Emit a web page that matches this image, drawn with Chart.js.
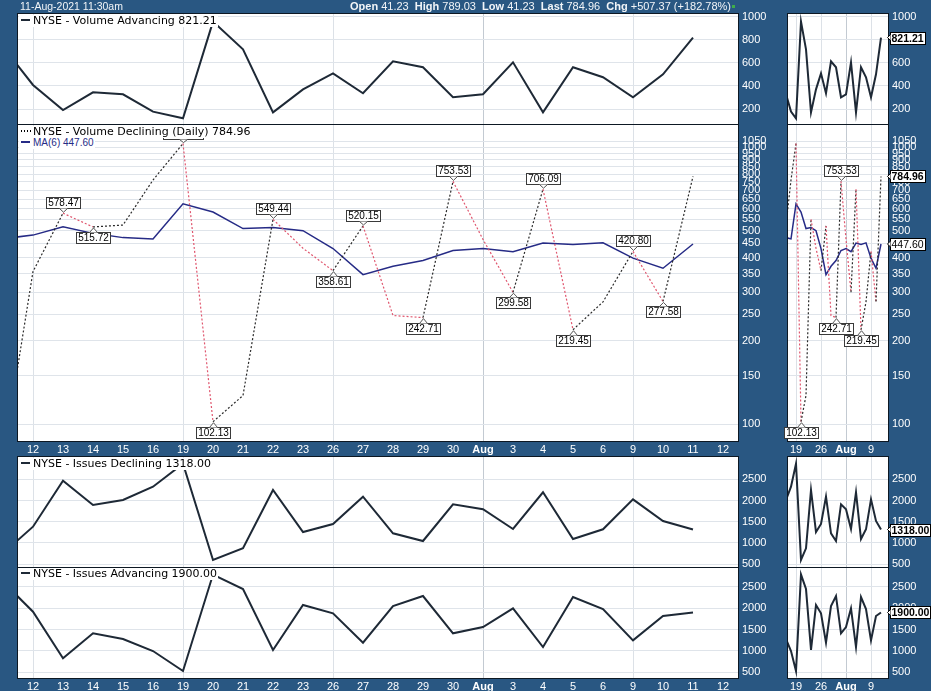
<!DOCTYPE html>
<html>
<head>
<meta charset="utf-8">
<title>NYSE - Volume Declining</title>
<script src="https://cdn.jsdelivr.net/npm/chart.js@4.4.1/dist/chart.umd.min.js"></script>
<style>
  html, body { margin:0; padding:0; }
  body { width:931px; height:691px; background:#295782; position:relative; overflow:hidden; }
  canvas { position:absolute; left:0; top:0; }
  .lg { position:absolute; z-index:10; background:#fff; font-family:"DejaVu Sans", Verdana, sans-serif; font-size:11px; line-height:12px; height:12px; white-space:nowrap; color:#000; padding-left:2px; padding-right:1px; }
  .dash { display:inline-block; width:9px; height:2px; background:#1e2936; vertical-align:middle; margin-right:3px; position:relative; top:-1px; }
  .dots { display:inline-block; width:10px; height:2px; vertical-align:middle; margin-right:2px; background-image:linear-gradient(to right, #000 50%, transparent 50%); background-size:3px 2px; position:relative; top:-1px; }
  .hdr { position:absolute; z-index:10; color:#f2f5f8; font-family:"Liberation Sans", Arial, sans-serif; font-size:11px; line-height:13px; white-space:nowrap; }
</style>
</head>
<body>
<canvas id="c1" width="931" height="691"></canvas>
<canvas id="c2" width="931" height="691"></canvas>
<canvas id="c3" width="931" height="691"></canvas>
<canvas id="c4" width="931" height="691"></canvas>
<canvas id="m1" width="931" height="691"></canvas>
<canvas id="m2" width="931" height="691"></canvas>
<canvas id="m3" width="931" height="691"></canvas>
<canvas id="m4" width="931" height="691"></canvas>
<div class="hdr" style="left:20px;top:0px;font-size:10.5px;">11-Aug-2021 11:30am</div>
<div class="hdr" style="left:350px;top:0px;"><b>Open</b> 41.23&nbsp; <b>High</b> 789.03&nbsp; <b>Low</b> 41.23&nbsp; <b>Last</b> 784.96&nbsp; <b>Chg</b> +507.37 (+182.78%)</div>
<div style="position:absolute;left:732px;top:5px;width:3px;height:3px;background:#3fae4a;z-index:10;"></div>
<script>
// ---------------- data ----------------
const dates = ['Jul 9','Jul 12','Jul 13','Jul 14','Jul 15','Jul 16','Jul 19','Jul 20','Jul 21','Jul 22','Jul 23',
               'Jul 26','Jul 27','Jul 28','Jul 29','Jul 30','Aug 2','Aug 3','Aug 4','Aug 5','Aug 6','Aug 9','Aug 10','Aug 11'];
const tickLabels = ['12','13','14','15','16','19','20','21','22','23','26','27','28','29','30','Aug','3','4','5','6','9','10','11','12'];
const weekStarts = [0,5,10,15,20];
const volAdv = [740,409,191,345,328,177,119,960,719,171,371,510,337,615,563,302,328,606,171,563,476,302,502,821.21];
const volDec = [75,356,578.47,515.72,524,762,1032,102.13,127,549.44,432,358.61,520.15,247,242.71,753.53,465,299.58,706.09,219.45,276.7,420.80,277.58,784.96];
const ma6    = [468,482,517,489,472,467,625,584,509,513,500,431,347,372,390,424,431,420,451,446,452,398,366,447.60];
const issDec = [757,1384,2469,1896,2014,2328,2870,599,875,2250,1259,1448,2092,1229,1047,1913,1795,1330,2196,1094,1323,2030,1519,1318.00];
const issAdv = [2622,1918,824,1411,1277,995,526,2790,2450,1019,2075,1880,1190,2051,2286,1411,1559,1997,1089,2263,1981,1246,1817,1900.00];
const advTicks = [200,400,600,800,1000];
const decTicks = [100,150,200,250,300,350,400,450,500,550,600,650,700,750,800,850,900,950,1000,1050];
const issTicks = [500,1000,1500,2000,2500];
const miniLabeled = [7,14,15,19];

// ---------------- helpers ----------------
const FF = '"Liberation Sans", Arial, sans-serif';
const W = 931, H = 691, YW = 40;
const pts = arr => arr.map((v,k) => ({x: k - 1, y: v}));
const lastOf = a => a[a.length-1].toFixed(2);

const panelPlugin = {
  id: 'panel',
  beforeDraw(c) { const a = c.chartArea, x = c.ctx; x.save(); x.fillStyle = '#fff'; x.fillRect(a.left, a.top, a.right-a.left, a.bottom-a.top); x.restore(); },
  afterDraw(c) { const a = c.chartArea, x = c.ctx; x.save(); x.strokeStyle = '#0d1823'; x.lineWidth = 1; x.strokeRect(a.left-0.5, a.top-0.5, a.right-a.left+1, a.bottom-a.top+1); x.restore(); }
};

function calloutBox(ctx, txt, px, py, up) {
  ctx.save();
  ctx.font = '10px ' + FF;
  const w = Math.ceil(ctx.measureText(txt).width) + 3, h = 11, gap = 5;
  const cx = Math.round(px);
  const left = Math.round(cx - w/2) + 0.5;
  const top = up ? Math.round(py - gap - h) + 0.5 : Math.round(py + gap) + 0.5;
  ctx.fillStyle = '#fff'; ctx.fillRect(left, top, w, h);
  ctx.strokeStyle = '#3a3a3a'; ctx.lineWidth = 1; ctx.strokeRect(left, top, w, h);
  const edge = up ? top + h : top;
  const tip = up ? py - 1 : py + 1;
  ctx.beginPath(); ctx.moveTo(cx - 3.5, edge); ctx.lineTo(cx + 0.5, tip); ctx.lineTo(cx + 4.5, edge);
  ctx.fillStyle = '#fff'; ctx.fill(); ctx.strokeStyle = '#555'; ctx.stroke();
  ctx.fillStyle = '#000'; ctx.textAlign = 'center'; ctx.textBaseline = 'middle';
  ctx.fillText(txt, left + w/2, top + h/2 + 0.5);
  ctx.restore();
}

function sideTag(ctx, txt, x, y, bold) {
  ctx.save();
  ctx.font = (bold ? 'bold ' : '') + '10.5px ' + FF;
  const w = Math.ceil(ctx.measureText(txt).width) + 2, h = 12;
  const left = Math.round(x) + 2.5, top = Math.round(y - h/2) + 0.5;
  ctx.fillStyle = '#fff'; ctx.fillRect(left, top, w, h);
  ctx.strokeStyle = '#000'; ctx.lineWidth = 1; ctx.strokeRect(left, top, w, h);
  ctx.beginPath(); ctx.moveTo(left, y - 3); ctx.lineTo(left - 3, y); ctx.lineTo(left, y + 3);
  ctx.fillStyle = '#fff'; ctx.fill(); ctx.stroke();
  ctx.fillStyle = '#000'; ctx.textAlign = 'left'; ctx.textBaseline = 'middle';
  ctx.fillText(txt, left + 1, top + h/2 + 0.5);
  ctx.restore();
}

function extremaLabels(indices) {
  return {
    id: 'extrema',
    afterDraw(c) {
      const meta = c.getDatasetMeta(0);
      const idx = indices || volDec.map((v,k) => k).filter(k => k > 0 && k < volDec.length - 1 &&
        ((volDec[k] > volDec[k-1] && volDec[k] > volDec[k+1]) || (volDec[k] < volDec[k-1] && volDec[k] < volDec[k+1])));
      idx.forEach(k => {
        const el = meta.data[k];
        calloutBox(c.ctx, volDec[k].toFixed(2), el.x, el.y, volDec[k] > volDec[k-1]);
      });
    }
  };
}

function tagsPlugin(list) {
  return {
    id: 'tags',
    afterDraw(c) {
      list.forEach(t => {
        const meta = c.getDatasetMeta(t.ds);
        const el = meta.data[meta.data.length - 1];
        sideTag(c.ctx, t.text, c.chartArea.right, el.y, t.bold);
      });
    }
  };
}

function makePanel(id, area, xr, yCfg, datasets, extraPlugins) {
  const XH = xr.labels ? 16 : 0;
  const xt = xr.ticks.filter(v => v >= xr.min && v <= xr.max);
  return new Chart(document.getElementById(id), {
    type: 'line',
    data: { labels: dates, datasets },
    options: {
      responsive: false, animation: false, devicePixelRatio: 1,
      events: [],
      layout: { padding: { left: area.l, top: area.t, right: W - area.r - YW, bottom: H - area.b - XH } },
      plugins: { legend: { display: false }, tooltip: { enabled: false } },
      elements: { point: { radius: 0 }, line: { tension: 0 } },
      scales: {
        x: {
          type: 'linear', min: xr.min, max: xr.max,
          afterBuildTicks: s => { s.ticks = xt.map(v => ({ value: v })); },
          afterFit: s => { s.height = XH; s.paddingLeft = 0; s.paddingRight = 0; },
          border: { display: false },
          grid: { drawTicks: false, color: ctx => (ctx.tick && weekStarts.includes(ctx.tick.value)) ? (ctx.tick.value === 15 ? '#c3cad2' : '#dce1e7') : 'rgba(0,0,0,0)' },
          ticks: {
            display: !!xr.labels, autoSkip: false, maxRotation: 0, padding: 2, color: '#fff',
            callback: v => tickLabels[v] !== undefined ? tickLabels[v] : '',
            font: ctx => ({ family: FF, size: 11, weight: (ctx.tick && ctx.tick.label === 'Aug') ? 'bold' : 'normal' })
          }
        },
        y: {
          type: yCfg.type, position: 'right', min: yCfg.min, max: yCfg.max,
          afterBuildTicks: s => { s.ticks = yCfg.ticks.map(v => ({ value: v })); },
          afterFit: s => { s.width = YW; s.paddingTop = 0; s.paddingBottom = 0; },
          border: { display: false },
          grid: { drawTicks: false, color: '#dfe4ea' },
          ticks: { autoSkip: false, padding: 4, color: '#fff', font: { family: FF, size: 11 }, callback: v => String(v) }
        }
      }
    },
    plugins: [panelPlugin].concat(extraPlugins || [])
  });
}

const solid = arr => ({ data: pts(arr), borderColor: '#1e2936', borderWidth: 2, pointRadius: 0, clip: 0 });
const dotted = () => ({
  data: pts(volDec), borderWidth: 1.2, borderDash: [2, 2], pointRadius: 0, clip: 0, borderColor: '#2a2a2a',
  segment: { borderColor: c => c.p1.parsed.y >= c.p0.parsed.y ? '#2a2a2a' : '#e0566e' }
});
const maLine = () => ({ data: pts(ma6), borderColor: '#262b86', borderWidth: 1.5, pointRadius: 0, clip: 0 });

const mainX = { min: -0.5, max: 23.5, ticks: tickLabels.map((t,i) => i) };
const miniX = { min: 3.4, max: 23.4, ticks: weekStarts };
const yAdv = { type: 'linear', min: 69.6, max: 1026, ticks: advTicks };
const yDec = { type: 'logarithmic', min: 87, max: 1204, ticks: decTicks };
const yID  = { type: 'linear', min: 434, max: 3028, ticks: issTicks };
const yIA  = { type: 'linear', min: 362, max: 2944, ticks: issTicks };

const P1 = { t: 14, b: 124 }, P2 = { t: 125, b: 441 }, P3 = { t: 457, b: 567 }, P4 = { t: 568, b: 678 };
const M = (p) => Object.assign({ l: 18, r: 738 }, p);
const S = (p) => Object.assign({ l: 788, r: 888 }, p);

makePanel('c1', M(P1), mainX, yAdv, [solid(volAdv)]);
makePanel('c2', M(P2), Object.assign({ labels: true }, mainX), yDec, [dotted(), maLine()], [extremaLabels(null)]);
makePanel('c3', M(P3), mainX, yID, [solid(issDec)]);
makePanel('c4', M(P4), Object.assign({ labels: true }, mainX), yIA, [solid(issAdv)]);

makePanel('m1', S(P1), miniX, yAdv, [solid(volAdv)], [tagsPlugin([{ ds: 0, text: lastOf(volAdv), bold: true }])]);
makePanel('m2', S(P2), Object.assign({ labels: true }, miniX), yDec, [dotted(), maLine()],
  [extremaLabels(miniLabeled), tagsPlugin([{ ds: 0, text: lastOf(volDec), bold: true }, { ds: 1, text: lastOf(ma6), bold: false }])]);
makePanel('m3', S(P3), miniX, yID, [solid(issDec)], [tagsPlugin([{ ds: 0, text: lastOf(issDec), bold: true }])]);
makePanel('m4', S(P4), Object.assign({ labels: true }, miniX), yIA, [solid(issAdv)], [tagsPlugin([{ ds: 0, text: lastOf(issAdv), bold: true }])]);

// ---------------- legends ----------------
function legend(left, top, html, style) {
  const d = document.createElement('div');
  d.className = 'lg'; d.style.left = left + 'px'; d.style.top = top + 'px';
  if (style) d.style.cssText += style;
  d.innerHTML = html; document.body.appendChild(d);
}
legend(19, 15, `<span class="dash"></span>NYSE - Volume Advancing ${lastOf(volAdv)}`);
legend(19, 126, `<span class="dots"></span>NYSE - Volume Declining (Daily) ${lastOf(volDec)}`);
legend(19, 137, `<span class="dash" style="background:#262b86"></span>MA(6) ${lastOf(ma6)}`, 'color:#262b86;font-family:"Liberation Sans",Arial,sans-serif;font-size:10px;');
legend(19, 458, `<span class="dash"></span>NYSE - Issues Declining ${lastOf(issDec)}`);
legend(19, 568, `<span class="dash"></span>NYSE - Issues Advancing ${lastOf(issAdv)}`);
</script>
</body>
</html>
